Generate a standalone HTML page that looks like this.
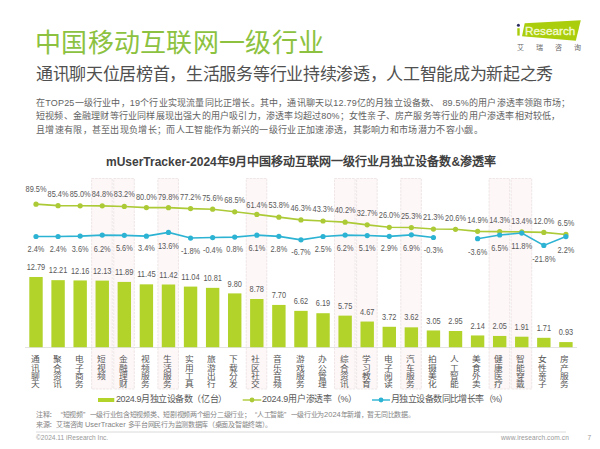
<!DOCTYPE html>
<html lang="zh-CN"><head><meta charset="utf-8">
<style>
html,body{margin:0;padding:0;background:#fff;}
body{width:600px;height:449px;overflow:hidden;position:relative;font-family:"Liberation Sans",sans-serif;}
svg{position:absolute;left:0;top:0;}
text{font-family:"Liberation Sans",sans-serif;}
.lb{font-size:9.5px;fill:#595959;text-anchor:middle;dominant-baseline:central;}
.cat{font-size:9px;fill:#555;text-anchor:middle;dominant-baseline:central;}
.t{position:absolute;white-space:nowrap;}
.la{font-size:7.45px;letter-spacing:0;}
.fq{display:inline-block;width:6.7px;text-align:left;}
.fq.r{text-align:right;}
</style></head><body>
<div class="t" style="left:35px;top:22px;font-size:26px;letter-spacing:0.3px;font-weight:300;color:#8cc23f;">中国移动互联网一级行业</div>
<div class="t" style="left:36px;top:59.5px;font-size:17px;letter-spacing:-0.32px;color:#505050;">通讯聊天位居榜首，生活服务等行业持续渗透，人工智能成为新起之秀</div>
<div class="t" style="left:36px;top:95.5px;font-size:9px;letter-spacing:0.2px;color:#626262;">在TOP25一级行业中，19个行业实现流量同比正增长。其中，通讯聊天以12.79亿的月独立设备数、 89.5%的用户渗透率领跑市场；</div>
<div class="t" style="left:36px;top:109px;font-size:9px;letter-spacing:0.2px;color:#626262;">短视频、金融理财等行业同样展现出强大的用户吸引力，渗透率均超过80%；女性亲子、房产服务等行业的用户渗透率相对较低，</div>
<div class="t" style="left:36px;top:122.5px;font-size:9px;letter-spacing:0.31px;color:#626262;">且增速有限，甚至出现负增长；而人工智能作为新兴的一级行业正加速渗透，其影响力和市场潜力不容小觑。</div>
<div class="t" style="left:106px;top:152px;font-size:12px;font-weight:bold;color:#404040;">mUserTracker-2024年9月中国移动互联网一级行业月独立设备数&amp;渗透率</div>
<svg width="600" height="449" viewBox="0 0 600 449">
<rect x="91.64" y="178.5" width="20.6" height="210.5" fill="#fdf7f8" stroke="#e8dcdd" stroke-width="0.7" stroke-dasharray="2.5,1"/>
<rect x="113.72" y="178.5" width="20.6" height="210.5" fill="#fdf7f8" stroke="#e8dcdd" stroke-width="0.7" stroke-dasharray="2.5,1"/>
<rect x="157.88" y="178.5" width="20.6" height="210.5" fill="#fdf7f8" stroke="#e8dcdd" stroke-width="0.7" stroke-dasharray="2.5,1"/>
<rect x="246.20" y="178.5" width="20.6" height="210.5" fill="#fdf7f8" stroke="#e8dcdd" stroke-width="0.7" stroke-dasharray="2.5,1"/>
<rect x="334.52" y="178.5" width="20.6" height="210.5" fill="#fdf7f8" stroke="#e8dcdd" stroke-width="0.7" stroke-dasharray="2.5,1"/>
<rect x="356.60" y="178.5" width="20.6" height="210.5" fill="#fdf7f8" stroke="#e8dcdd" stroke-width="0.7" stroke-dasharray="2.5,1"/>
<rect x="400.76" y="178.5" width="20.6" height="210.5" fill="#fdf7f8" stroke="#e8dcdd" stroke-width="0.7" stroke-dasharray="2.5,1"/>
<rect x="489.08" y="178.5" width="20.6" height="210.5" fill="#fdf7f8" stroke="#e8dcdd" stroke-width="0.7" stroke-dasharray="2.5,1"/>
<rect x="511.16" y="178.5" width="20.6" height="210.5" fill="#fdf7f8" stroke="#e8dcdd" stroke-width="0.7" stroke-dasharray="2.5,1"/>
<line x1="25" y1="347.5" x2="577" y2="347.5" stroke="#dcdcdc" stroke-width="0.8"/>
<rect x="29.30" y="276.98" width="13.4" height="70.22" fill="#b1d32a"/>
<text x="36.00" y="266.58" class="lb" textLength="18.47" lengthAdjust="spacingAndGlyphs">12.79</text>
<rect x="51.38" y="280.17" width="13.4" height="67.03" fill="#b1d32a"/>
<text x="58.08" y="269.77" class="lb" textLength="18.47" lengthAdjust="spacingAndGlyphs">12.21</text>
<rect x="73.46" y="280.44" width="13.4" height="66.76" fill="#b1d32a"/>
<text x="80.16" y="270.04" class="lb" textLength="18.47" lengthAdjust="spacingAndGlyphs">12.16</text>
<rect x="95.54" y="280.61" width="13.4" height="66.59" fill="#b1d32a"/>
<text x="102.24" y="270.21" class="lb" textLength="18.47" lengthAdjust="spacingAndGlyphs">12.13</text>
<rect x="117.62" y="281.92" width="13.4" height="65.28" fill="#b1d32a"/>
<text x="124.32" y="271.52" class="lb" textLength="18.47" lengthAdjust="spacingAndGlyphs">11.89</text>
<rect x="139.70" y="284.34" width="13.4" height="62.86" fill="#b1d32a"/>
<text x="146.40" y="273.94" class="lb" textLength="18.47" lengthAdjust="spacingAndGlyphs">11.45</text>
<rect x="161.78" y="284.50" width="13.4" height="62.70" fill="#b1d32a"/>
<text x="168.48" y="274.10" class="lb" textLength="18.47" lengthAdjust="spacingAndGlyphs">11.42</text>
<rect x="183.86" y="286.59" width="13.4" height="60.61" fill="#b1d32a"/>
<text x="190.56" y="276.19" class="lb" textLength="18.47" lengthAdjust="spacingAndGlyphs">11.04</text>
<rect x="205.94" y="287.85" width="13.4" height="59.35" fill="#b1d32a"/>
<text x="212.64" y="277.45" class="lb" textLength="18.47" lengthAdjust="spacingAndGlyphs">10.81</text>
<rect x="228.02" y="293.40" width="13.4" height="53.80" fill="#b1d32a"/>
<text x="234.72" y="283.00" class="lb" textLength="14.36" lengthAdjust="spacingAndGlyphs">9.80</text>
<rect x="250.10" y="299.00" width="13.4" height="48.20" fill="#b1d32a"/>
<text x="256.80" y="288.60" class="lb" textLength="14.36" lengthAdjust="spacingAndGlyphs">8.78</text>
<rect x="272.18" y="304.93" width="13.4" height="42.27" fill="#b1d32a"/>
<text x="278.88" y="294.53" class="lb" textLength="14.36" lengthAdjust="spacingAndGlyphs">7.70</text>
<rect x="294.26" y="310.86" width="13.4" height="36.34" fill="#b1d32a"/>
<text x="300.96" y="300.46" class="lb" textLength="14.36" lengthAdjust="spacingAndGlyphs">6.62</text>
<rect x="316.34" y="313.22" width="13.4" height="33.98" fill="#b1d32a"/>
<text x="323.04" y="302.82" class="lb" textLength="14.36" lengthAdjust="spacingAndGlyphs">6.19</text>
<rect x="338.42" y="315.63" width="13.4" height="31.57" fill="#b1d32a"/>
<text x="345.12" y="305.23" class="lb" textLength="14.36" lengthAdjust="spacingAndGlyphs">5.75</text>
<rect x="360.50" y="321.56" width="13.4" height="25.64" fill="#b1d32a"/>
<text x="367.20" y="311.16" class="lb" textLength="14.36" lengthAdjust="spacingAndGlyphs">4.67</text>
<rect x="382.58" y="326.78" width="13.4" height="20.42" fill="#b1d32a"/>
<text x="389.28" y="316.38" class="lb" textLength="14.36" lengthAdjust="spacingAndGlyphs">3.72</text>
<rect x="404.66" y="327.33" width="13.4" height="19.87" fill="#b1d32a"/>
<text x="411.36" y="316.93" class="lb" textLength="14.36" lengthAdjust="spacingAndGlyphs">3.62</text>
<rect x="426.74" y="330.46" width="13.4" height="16.74" fill="#b1d32a"/>
<text x="433.44" y="320.06" class="lb" textLength="14.36" lengthAdjust="spacingAndGlyphs">3.05</text>
<rect x="448.82" y="331.00" width="13.4" height="16.20" fill="#b1d32a"/>
<text x="455.52" y="320.60" class="lb" textLength="14.36" lengthAdjust="spacingAndGlyphs">2.95</text>
<rect x="470.90" y="335.45" width="13.4" height="11.75" fill="#b1d32a"/>
<text x="477.60" y="325.05" class="lb" textLength="14.36" lengthAdjust="spacingAndGlyphs">2.14</text>
<rect x="492.98" y="335.95" width="13.4" height="11.25" fill="#b1d32a"/>
<text x="499.68" y="325.55" class="lb" textLength="14.36" lengthAdjust="spacingAndGlyphs">2.05</text>
<rect x="515.06" y="336.71" width="13.4" height="10.49" fill="#b1d32a"/>
<text x="521.76" y="326.31" class="lb" textLength="14.36" lengthAdjust="spacingAndGlyphs">1.91</text>
<rect x="537.14" y="337.81" width="13.4" height="9.39" fill="#b1d32a"/>
<text x="543.84" y="327.41" class="lb" textLength="14.36" lengthAdjust="spacingAndGlyphs">1.71</text>
<rect x="559.22" y="342.09" width="13.4" height="5.11" fill="#b1d32a"/>
<text x="565.92" y="331.69" class="lb" textLength="14.36" lengthAdjust="spacingAndGlyphs">0.93</text>
<polyline points="36.00,204.13 58.08,205.63 80.16,205.78 102.24,205.85 124.32,206.43 146.40,207.60 168.48,207.67 190.56,208.62 212.64,209.21 234.72,211.80 256.80,214.39 278.88,217.16 300.96,219.90 323.04,221.00 345.12,222.13 367.20,224.86 389.28,227.31 411.36,227.57 433.44,229.03 455.52,229.28 477.60,231.36 499.68,231.58 521.76,231.91 543.84,232.42 565.92,234.43" fill="none" stroke="#acca36" stroke-width="1.6"/>
<circle cx="36.00" cy="204.13" r="2.6" fill="#acca36"/>
<circle cx="58.08" cy="205.63" r="2.6" fill="#acca36"/>
<circle cx="80.16" cy="205.78" r="2.6" fill="#acca36"/>
<circle cx="102.24" cy="205.85" r="2.6" fill="#acca36"/>
<circle cx="124.32" cy="206.43" r="2.6" fill="#acca36"/>
<circle cx="146.40" cy="207.60" r="2.6" fill="#acca36"/>
<circle cx="168.48" cy="207.67" r="2.6" fill="#acca36"/>
<circle cx="190.56" cy="208.62" r="2.6" fill="#acca36"/>
<circle cx="212.64" cy="209.21" r="2.6" fill="#acca36"/>
<circle cx="234.72" cy="211.80" r="2.6" fill="#acca36"/>
<circle cx="256.80" cy="214.39" r="2.6" fill="#acca36"/>
<circle cx="278.88" cy="217.16" r="2.6" fill="#acca36"/>
<circle cx="300.96" cy="219.90" r="2.6" fill="#acca36"/>
<circle cx="323.04" cy="221.00" r="2.6" fill="#acca36"/>
<circle cx="345.12" cy="222.13" r="2.6" fill="#acca36"/>
<circle cx="367.20" cy="224.86" r="2.6" fill="#acca36"/>
<circle cx="389.28" cy="227.31" r="2.6" fill="#acca36"/>
<circle cx="411.36" cy="227.57" r="2.6" fill="#acca36"/>
<circle cx="433.44" cy="229.03" r="2.6" fill="#acca36"/>
<circle cx="455.52" cy="229.28" r="2.6" fill="#acca36"/>
<circle cx="477.60" cy="231.36" r="2.6" fill="#acca36"/>
<circle cx="499.68" cy="231.58" r="2.6" fill="#acca36"/>
<circle cx="521.76" cy="231.91" r="2.6" fill="#acca36"/>
<circle cx="543.84" cy="232.42" r="2.6" fill="#acca36"/>
<circle cx="565.92" cy="234.43" r="2.6" fill="#acca36"/>
<text x="36.00" y="188.30" class="lb" textLength="20.93" lengthAdjust="spacingAndGlyphs">89.5%</text>
<text x="58.08" y="193.40" class="lb" textLength="20.93" lengthAdjust="spacingAndGlyphs">85.4%</text>
<text x="80.16" y="193.60" class="lb" textLength="20.93" lengthAdjust="spacingAndGlyphs">85.0%</text>
<text x="102.24" y="193.60" class="lb" textLength="20.93" lengthAdjust="spacingAndGlyphs">84.8%</text>
<text x="124.32" y="193.60" class="lb" textLength="20.93" lengthAdjust="spacingAndGlyphs">83.2%</text>
<text x="146.40" y="196.00" class="lb" textLength="20.93" lengthAdjust="spacingAndGlyphs">80.0%</text>
<text x="168.48" y="196.00" class="lb" textLength="20.93" lengthAdjust="spacingAndGlyphs">79.8%</text>
<text x="190.56" y="196.70" class="lb" textLength="20.93" lengthAdjust="spacingAndGlyphs">77.2%</text>
<text x="212.64" y="197.30" class="lb" textLength="20.93" lengthAdjust="spacingAndGlyphs">75.6%</text>
<text x="234.72" y="199.00" class="lb" textLength="20.93" lengthAdjust="spacingAndGlyphs">68.5%</text>
<text x="256.80" y="204.60" class="lb" textLength="20.93" lengthAdjust="spacingAndGlyphs">61.4%</text>
<text x="278.88" y="204.30" class="lb" textLength="20.93" lengthAdjust="spacingAndGlyphs">53.8%</text>
<text x="300.96" y="207.50" class="lb" textLength="20.93" lengthAdjust="spacingAndGlyphs">46.3%</text>
<text x="323.04" y="208.40" class="lb" textLength="20.93" lengthAdjust="spacingAndGlyphs">43.3%</text>
<text x="345.12" y="209.40" class="lb" textLength="20.93" lengthAdjust="spacingAndGlyphs">40.2%</text>
<text x="367.20" y="212.60" class="lb" textLength="20.93" lengthAdjust="spacingAndGlyphs">32.7%</text>
<text x="389.28" y="214.80" class="lb" textLength="20.93" lengthAdjust="spacingAndGlyphs">26.0%</text>
<text x="411.36" y="215.50" class="lb" textLength="20.93" lengthAdjust="spacingAndGlyphs">25.3%</text>
<text x="433.44" y="216.90" class="lb" textLength="20.93" lengthAdjust="spacingAndGlyphs">21.3%</text>
<text x="455.52" y="217.00" class="lb" textLength="20.93" lengthAdjust="spacingAndGlyphs">20.6%</text>
<text x="477.60" y="219.20" class="lb" textLength="20.93" lengthAdjust="spacingAndGlyphs">14.9%</text>
<text x="499.68" y="219.20" class="lb" textLength="20.93" lengthAdjust="spacingAndGlyphs">14.3%</text>
<text x="521.76" y="220.30" class="lb" textLength="20.93" lengthAdjust="spacingAndGlyphs">13.4%</text>
<text x="543.84" y="220.30" class="lb" textLength="20.93" lengthAdjust="spacingAndGlyphs">12.0%</text>
<text x="565.92" y="222.00" class="lb" textLength="16.82" lengthAdjust="spacingAndGlyphs">6.5%</text>
<polyline points="36.00,236.52 58.08,236.52 80.16,236.08 102.24,235.12 124.32,235.34 146.40,236.15 168.48,232.41 190.56,238.06 212.64,237.55 234.72,237.11 256.80,235.16 278.88,236.37 300.96,239.86 323.04,236.48 345.12,235.12 367.20,235.53 389.28,236.34 411.36,234.87 433.44,237.51" fill="none" stroke="#2cb3d3" stroke-width="1.6"/>
<polyline points="477.60,238.72 499.68,235.01 521.76,233.07 543.84,245.40 565.92,236.59" fill="none" stroke="#2cb3d3" stroke-width="1.6"/>
<circle cx="36.00" cy="236.52" r="2.6" fill="#2cb3d3"/>
<text x="36.00" y="248.30" class="lb" textLength="16.82" lengthAdjust="spacingAndGlyphs">2.4%</text>
<circle cx="58.08" cy="236.52" r="2.6" fill="#2cb3d3"/>
<text x="58.08" y="248.30" class="lb" textLength="16.82" lengthAdjust="spacingAndGlyphs">2.4%</text>
<circle cx="80.16" cy="236.08" r="2.6" fill="#2cb3d3"/>
<text x="80.16" y="248.30" class="lb" textLength="16.82" lengthAdjust="spacingAndGlyphs">3.6%</text>
<circle cx="102.24" cy="235.12" r="2.6" fill="#2cb3d3"/>
<text x="102.24" y="248.10" class="lb" textLength="16.82" lengthAdjust="spacingAndGlyphs">6.2%</text>
<circle cx="124.32" cy="235.34" r="2.6" fill="#2cb3d3"/>
<text x="124.32" y="247.90" class="lb" textLength="16.82" lengthAdjust="spacingAndGlyphs">5.6%</text>
<circle cx="146.40" cy="236.15" r="2.6" fill="#2cb3d3"/>
<text x="146.40" y="247.90" class="lb" textLength="16.82" lengthAdjust="spacingAndGlyphs">3.4%</text>
<circle cx="168.48" cy="232.41" r="2.6" fill="#2cb3d3"/>
<text x="168.48" y="245.00" class="lb" textLength="20.93" lengthAdjust="spacingAndGlyphs">13.6%</text>
<circle cx="190.56" cy="238.06" r="2.6" fill="#2cb3d3"/>
<text x="190.56" y="250.30" class="lb" textLength="19.28" lengthAdjust="spacingAndGlyphs">-1.8%</text>
<circle cx="212.64" cy="237.55" r="2.6" fill="#2cb3d3"/>
<text x="212.64" y="249.50" class="lb" textLength="19.28" lengthAdjust="spacingAndGlyphs">-0.4%</text>
<circle cx="234.72" cy="237.11" r="2.6" fill="#2cb3d3"/>
<text x="234.72" y="248.90" class="lb" textLength="16.82" lengthAdjust="spacingAndGlyphs">0.8%</text>
<circle cx="256.80" cy="235.16" r="2.6" fill="#2cb3d3"/>
<text x="256.80" y="247.10" class="lb" textLength="16.82" lengthAdjust="spacingAndGlyphs">6.1%</text>
<circle cx="278.88" cy="236.37" r="2.6" fill="#2cb3d3"/>
<text x="278.88" y="248.90" class="lb" textLength="16.82" lengthAdjust="spacingAndGlyphs">2.8%</text>
<circle cx="300.96" cy="239.86" r="2.6" fill="#2cb3d3"/>
<text x="300.96" y="251.50" class="lb" textLength="19.28" lengthAdjust="spacingAndGlyphs">-6.7%</text>
<circle cx="323.04" cy="236.48" r="2.6" fill="#2cb3d3"/>
<text x="323.04" y="248.90" class="lb" textLength="16.82" lengthAdjust="spacingAndGlyphs">2.5%</text>
<circle cx="345.12" cy="235.12" r="2.6" fill="#2cb3d3"/>
<text x="345.12" y="247.10" class="lb" textLength="16.82" lengthAdjust="spacingAndGlyphs">6.2%</text>
<circle cx="367.20" cy="235.53" r="2.6" fill="#2cb3d3"/>
<text x="367.20" y="247.10" class="lb" textLength="16.82" lengthAdjust="spacingAndGlyphs">5.1%</text>
<circle cx="389.28" cy="236.34" r="2.6" fill="#2cb3d3"/>
<text x="389.28" y="247.90" class="lb" textLength="16.82" lengthAdjust="spacingAndGlyphs">2.9%</text>
<circle cx="411.36" cy="234.87" r="2.6" fill="#2cb3d3"/>
<text x="411.36" y="247.10" class="lb" textLength="16.82" lengthAdjust="spacingAndGlyphs">6.9%</text>
<circle cx="433.44" cy="237.51" r="2.6" fill="#2cb3d3"/>
<text x="433.44" y="249.80" class="lb" textLength="19.28" lengthAdjust="spacingAndGlyphs">-0.3%</text>
<circle cx="477.60" cy="238.72" r="2.6" fill="#2cb3d3"/>
<text x="477.60" y="251.20" class="lb" textLength="19.28" lengthAdjust="spacingAndGlyphs">-3.6%</text>
<circle cx="499.68" cy="235.01" r="2.6" fill="#2cb3d3"/>
<text x="499.68" y="247.30" class="lb" textLength="16.82" lengthAdjust="spacingAndGlyphs">6.5%</text>
<circle cx="521.76" cy="233.07" r="2.6" fill="#2cb3d3"/>
<text x="521.76" y="245.10" class="lb" textLength="20.93" lengthAdjust="spacingAndGlyphs">11.8%</text>
<circle cx="543.84" cy="245.40" r="2.6" fill="#2cb3d3"/>
<text x="543.84" y="258.20" class="lb" textLength="23.38" lengthAdjust="spacingAndGlyphs">-21.8%</text>
<circle cx="565.92" cy="236.59" r="2.6" fill="#2cb3d3"/>
<text x="565.92" y="249.10" class="lb" textLength="16.82" lengthAdjust="spacingAndGlyphs">2.2%</text>
<text transform="translate(34.80,360.10) scale(0.97,0.86)" class="cat">通</text>
<text transform="translate(34.80,368.30) scale(0.97,0.86)" class="cat">讯</text>
<text transform="translate(34.80,376.50) scale(0.97,0.86)" class="cat">聊</text>
<text transform="translate(34.80,384.70) scale(0.97,0.86)" class="cat">天</text>
<text transform="translate(56.88,360.10) scale(0.97,0.86)" class="cat">聚</text>
<text transform="translate(56.88,368.30) scale(0.97,0.86)" class="cat">合</text>
<text transform="translate(56.88,376.50) scale(0.97,0.86)" class="cat">资</text>
<text transform="translate(56.88,384.70) scale(0.97,0.86)" class="cat">讯</text>
<text transform="translate(78.96,360.10) scale(0.97,0.86)" class="cat">电</text>
<text transform="translate(78.96,368.30) scale(0.97,0.86)" class="cat">子</text>
<text transform="translate(78.96,376.50) scale(0.97,0.86)" class="cat">商</text>
<text transform="translate(78.96,384.70) scale(0.97,0.86)" class="cat">务</text>
<text transform="translate(101.04,360.10) scale(0.97,0.86)" class="cat">短</text>
<text transform="translate(101.04,368.30) scale(0.97,0.86)" class="cat">视</text>
<text transform="translate(101.04,376.50) scale(0.97,0.86)" class="cat">频</text>
<text transform="translate(123.12,360.10) scale(0.97,0.86)" class="cat">金</text>
<text transform="translate(123.12,368.30) scale(0.97,0.86)" class="cat">融</text>
<text transform="translate(123.12,376.50) scale(0.97,0.86)" class="cat">理</text>
<text transform="translate(123.12,384.70) scale(0.97,0.86)" class="cat">财</text>
<text transform="translate(145.20,360.10) scale(0.97,0.86)" class="cat">视</text>
<text transform="translate(145.20,368.30) scale(0.97,0.86)" class="cat">频</text>
<text transform="translate(145.20,376.50) scale(0.97,0.86)" class="cat">服</text>
<text transform="translate(145.20,384.70) scale(0.97,0.86)" class="cat">务</text>
<text transform="translate(167.28,360.10) scale(0.97,0.86)" class="cat">生</text>
<text transform="translate(167.28,368.30) scale(0.97,0.86)" class="cat">活</text>
<text transform="translate(167.28,376.50) scale(0.97,0.86)" class="cat">服</text>
<text transform="translate(167.28,384.70) scale(0.97,0.86)" class="cat">务</text>
<text transform="translate(189.36,360.10) scale(0.97,0.86)" class="cat">实</text>
<text transform="translate(189.36,368.30) scale(0.97,0.86)" class="cat">用</text>
<text transform="translate(189.36,376.50) scale(0.97,0.86)" class="cat">工</text>
<text transform="translate(189.36,384.70) scale(0.97,0.86)" class="cat">具</text>
<text transform="translate(211.44,360.10) scale(0.97,0.86)" class="cat">旅</text>
<text transform="translate(211.44,368.30) scale(0.97,0.86)" class="cat">游</text>
<text transform="translate(211.44,376.50) scale(0.97,0.86)" class="cat">出</text>
<text transform="translate(211.44,384.70) scale(0.97,0.86)" class="cat">行</text>
<text transform="translate(233.52,360.10) scale(0.97,0.86)" class="cat">下</text>
<text transform="translate(233.52,368.30) scale(0.97,0.86)" class="cat">载</text>
<text transform="translate(233.52,376.50) scale(0.97,0.86)" class="cat">分</text>
<text transform="translate(233.52,384.70) scale(0.97,0.86)" class="cat">发</text>
<text transform="translate(255.60,360.10) scale(0.97,0.86)" class="cat">社</text>
<text transform="translate(255.60,368.30) scale(0.97,0.86)" class="cat">区</text>
<text transform="translate(255.60,376.50) scale(0.97,0.86)" class="cat">社</text>
<text transform="translate(255.60,384.70) scale(0.97,0.86)" class="cat">交</text>
<text transform="translate(277.68,360.10) scale(0.97,0.86)" class="cat">音</text>
<text transform="translate(277.68,368.30) scale(0.97,0.86)" class="cat">乐</text>
<text transform="translate(277.68,376.50) scale(0.97,0.86)" class="cat">音</text>
<text transform="translate(277.68,384.70) scale(0.97,0.86)" class="cat">频</text>
<text transform="translate(299.76,360.10) scale(0.97,0.86)" class="cat">游</text>
<text transform="translate(299.76,368.30) scale(0.97,0.86)" class="cat">戏</text>
<text transform="translate(299.76,376.50) scale(0.97,0.86)" class="cat">服</text>
<text transform="translate(299.76,384.70) scale(0.97,0.86)" class="cat">务</text>
<text transform="translate(321.84,360.10) scale(0.97,0.86)" class="cat">办</text>
<text transform="translate(321.84,368.30) scale(0.97,0.86)" class="cat">公</text>
<text transform="translate(321.84,376.50) scale(0.97,0.86)" class="cat">管</text>
<text transform="translate(321.84,384.70) scale(0.97,0.86)" class="cat">理</text>
<text transform="translate(343.92,360.10) scale(0.97,0.86)" class="cat">综</text>
<text transform="translate(343.92,368.30) scale(0.97,0.86)" class="cat">合</text>
<text transform="translate(343.92,376.50) scale(0.97,0.86)" class="cat">资</text>
<text transform="translate(343.92,384.70) scale(0.97,0.86)" class="cat">讯</text>
<text transform="translate(366.00,360.10) scale(0.97,0.86)" class="cat">学</text>
<text transform="translate(366.00,368.30) scale(0.97,0.86)" class="cat">习</text>
<text transform="translate(366.00,376.50) scale(0.97,0.86)" class="cat">教</text>
<text transform="translate(366.00,384.70) scale(0.97,0.86)" class="cat">育</text>
<text transform="translate(388.08,360.10) scale(0.97,0.86)" class="cat">电</text>
<text transform="translate(388.08,368.30) scale(0.97,0.86)" class="cat">子</text>
<text transform="translate(388.08,376.50) scale(0.97,0.86)" class="cat">阅</text>
<text transform="translate(388.08,384.70) scale(0.97,0.86)" class="cat">读</text>
<text transform="translate(410.16,360.10) scale(0.97,0.86)" class="cat">汽</text>
<text transform="translate(410.16,368.30) scale(0.97,0.86)" class="cat">车</text>
<text transform="translate(410.16,376.50) scale(0.97,0.86)" class="cat">服</text>
<text transform="translate(410.16,384.70) scale(0.97,0.86)" class="cat">务</text>
<text transform="translate(432.24,360.10) scale(0.97,0.86)" class="cat">拍</text>
<text transform="translate(432.24,368.30) scale(0.97,0.86)" class="cat">摄</text>
<text transform="translate(432.24,376.50) scale(0.97,0.86)" class="cat">美</text>
<text transform="translate(432.24,384.70) scale(0.97,0.86)" class="cat">化</text>
<text transform="translate(454.32,360.10) scale(0.97,0.86)" class="cat">人</text>
<text transform="translate(454.32,368.30) scale(0.97,0.86)" class="cat">工</text>
<text transform="translate(454.32,376.50) scale(0.97,0.86)" class="cat">智</text>
<text transform="translate(454.32,384.70) scale(0.97,0.86)" class="cat">能</text>
<text transform="translate(476.40,360.10) scale(0.97,0.86)" class="cat">美</text>
<text transform="translate(476.40,368.30) scale(0.97,0.86)" class="cat">食</text>
<text transform="translate(476.40,376.50) scale(0.97,0.86)" class="cat">外</text>
<text transform="translate(476.40,384.70) scale(0.97,0.86)" class="cat">卖</text>
<text transform="translate(498.48,360.10) scale(0.97,0.86)" class="cat">健</text>
<text transform="translate(498.48,368.30) scale(0.97,0.86)" class="cat">康</text>
<text transform="translate(498.48,376.50) scale(0.97,0.86)" class="cat">医</text>
<text transform="translate(498.48,384.70) scale(0.97,0.86)" class="cat">疗</text>
<text transform="translate(520.56,360.10) scale(0.97,0.86)" class="cat">智</text>
<text transform="translate(520.56,368.30) scale(0.97,0.86)" class="cat">能</text>
<text transform="translate(520.56,376.50) scale(0.97,0.86)" class="cat">穿</text>
<text transform="translate(520.56,384.70) scale(0.97,0.86)" class="cat">戴</text>
<text transform="translate(542.64,360.10) scale(0.97,0.86)" class="cat">女</text>
<text transform="translate(542.64,368.30) scale(0.97,0.86)" class="cat">性</text>
<text transform="translate(542.64,376.50) scale(0.97,0.86)" class="cat">亲</text>
<text transform="translate(542.64,384.70) scale(0.97,0.86)" class="cat">子</text>
<text transform="translate(564.72,360.10) scale(0.97,0.86)" class="cat">房</text>
<text transform="translate(564.72,368.30) scale(0.97,0.86)" class="cat">产</text>
<text transform="translate(564.72,376.50) scale(0.97,0.86)" class="cat">服</text>
<text transform="translate(564.72,384.70) scale(0.97,0.86)" class="cat">务</text>
<rect x="98" y="398" width="16.3" height="4" fill="#b1d32a"/>
<line x1="242.7" y1="400" x2="261.3" y2="400" stroke="#acca36" stroke-width="1.4"/>
<circle cx="252" cy="400" r="2.4" fill="#acca36"/>
<line x1="372" y1="400" x2="390" y2="400" stroke="#2cb3d3" stroke-width="1.4"/>
<circle cx="381" cy="400" r="2.4" fill="#2cb3d3"/>
<line x1="36" y1="432" x2="566" y2="432" stroke="#d0d0d0" stroke-width="0.8"/>
<polygon points="524.7,23.3 580.8,20.2 575.8,40.7 522,36.2" fill="#aacd0c"/>
<rect x="517.3" y="28.2" width="2.4" height="7.4" fill="#a9cc0a"/>
<circle cx="518.4" cy="25.3" r="1.5" fill="#2b2d5e"/>
<text x="525" y="35.3" font-size="11.6" fill="#f2fbd0" stroke="#f2fbd0" stroke-width="0.35" textLength="50.3" lengthAdjust="spacingAndGlyphs">Research</text>
</svg>
<div class="t" style="left:116px;top:392.3px;font-size:9px;letter-spacing:-0.42px;color:#595959;">2024.9月独立设备数（亿台）</div>
<div class="t" style="left:262px;top:392.3px;font-size:9px;letter-spacing:-0.25px;color:#595959;">2024.9用户渗透率（%）</div>
<div class="t" style="left:391px;top:392.3px;font-size:9px;letter-spacing:-0.58px;color:#595959;">月独立设备数同比增长率（%）</div>
<div class="t" style="left:36px;top:410.3px;font-size:7px;letter-spacing:-0.3px;line-height:9.2px;color:#858585;">注释：<span class="fq r">“</span>短视频<span class="fq">”</span>一级行业包含短视频类、短剧视频两个细分二级行业；<span class="fq r">“</span>人工智能<span class="fq">”</span>一级行业为<span class="la">2024</span>年新增，暂无同比数据。<br>来源：艾瑞咨询<span class="la"> UserTracker </span>多平台网民行为监测数据库（桌面及智能终端）。</div>
<div class="t" style="left:36px;top:434px;font-size:6.6px;color:#999;">©2024.11 iResearch Inc.</div>
<div class="t" style="left:501px;top:434px;font-size:6.6px;letter-spacing:0.1px;color:#999;">www.iresearch.com.cn</div>
<div class="t" style="left:587.5px;top:434px;font-size:6.6px;color:#999;">7</div>
<div class="t" style="left:517px;top:41.5px;font-size:7px;letter-spacing:12px;color:#6a6a6a;">艾瑞咨询</div>
</body></html>
